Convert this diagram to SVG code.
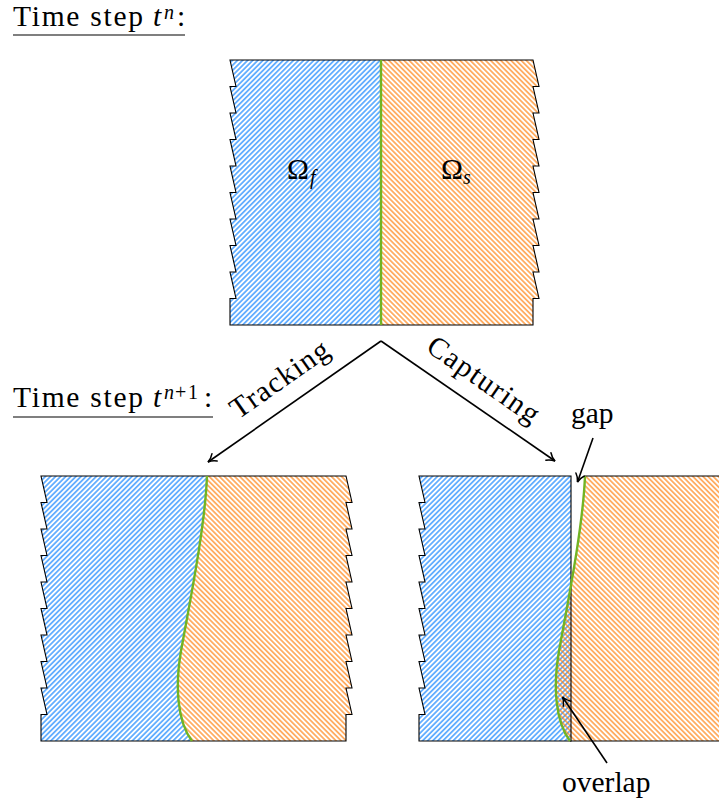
<svg xmlns="http://www.w3.org/2000/svg" width="719" height="803" viewBox="0 0 719 803">
<style>
.t{font-size:29.5px;fill:#000}
.it{font-style:italic}
.sup{font-size:20px}
.outline{fill:none;stroke:#000;stroke-width:1.1;stroke-linejoin:miter}
.iface{fill:none;stroke:#72b424;stroke-width:2.4}
.arrow{fill:none;stroke:#000;stroke-width:1.6;marker-end:url(#arr)}
.ul{stroke:#000;stroke-width:1.1}
</style>
<defs>
<pattern id="hb" width="3.6" height="3.6" patternUnits="userSpaceOnUse" patternTransform="rotate(45)"><line x1="1.8" y1="-1" x2="1.8" y2="4.6" stroke="#0a80ff" stroke-width="1.15"/></pattern>
<pattern id="ho" width="3.6" height="3.6" patternUnits="userSpaceOnUse" patternTransform="rotate(-45)"><line x1="1.8" y1="-1" x2="1.8" y2="4.6" stroke="#ff7f0a" stroke-width="1.15"/></pattern>
<marker id="arr" viewBox="-10 -6 12 12" refX="0" refY="0" markerWidth="12" markerHeight="12" orient="auto" markerUnits="userSpaceOnUse"><path d="M-8,-4.5 C-5.5,-2 -2,-0.5 0,0 C-2,0.5 -5.5,2 -8,4.5" fill="none" stroke="#000" stroke-width="1.5" stroke-linecap="round"/></marker>
</defs>

<g font-family="'Liberation Serif', 'Times New Roman', serif">
<g id="label-tn">
<text class="t" x="13" y="26" textLength="130" lengthAdjust="spacing">Time step</text>
<text class="t it" x="153" y="26">t</text>
<text class="t it sup" x="164" y="18.5">n</text>
<text class="t" x="177" y="26">:</text>
<line class="ul" x1="13" y1="35" x2="185" y2="35"/>
</g>

<g id="label-tn1">
<text class="t" x="13" y="407" textLength="130" lengthAdjust="spacing">Time step</text>
<text class="t it" x="153" y="407">t</text>
<text class="t it sup" x="164" y="399">n</text>
<text class="t sup" x="175" y="399">+</text>
<text class="t sup" x="188" y="399">1</text>
<text class="t" x="204" y="407">:</text>
<line class="ul" x1="13" y1="417" x2="213" y2="417"/>
</g>

<g id="domain-tn">
<path id="omega-f-region" fill="url(#hb)" d="M381,60 H230 l6,26.5h-6l6,26.5h-6l6,26.5h-6l6,26.5h-6l6,26.5h-6l6,26.5h-6l6,26.5h-6l6,26.5h-6l6,26.5h-6 v26.5 H381 Z"/>
<path id="omega-s-region" fill="url(#ho)" d="M381,60 H533 l6,26.5h-6l6,26.5h-6l6,26.5h-6l6,26.5h-6l6,26.5h-6l6,26.5h-6l6,26.5h-6l6,26.5h-6l6,26.5h-6 v26.5 H381 Z"/>
<path class="outline" d="M230,60 H533 l6,26.5h-6l6,26.5h-6l6,26.5h-6l6,26.5h-6l6,26.5h-6l6,26.5h-6l6,26.5h-6l6,26.5h-6l6,26.5h-6 v26.5 H230 v-26.5 h6l-6,-26.5h6l-6,-26.5h6l-6,-26.5h6l-6,-26.5h6l-6,-26.5h6l-6,-26.5h6l-6,-26.5h6l-6,-26.5h6l-6,-26.5 Z"/>
<path class="iface" d="M381,60 V325"/>
<g id="omega-f"><text class="t" font-size="28" x="287" y="179">Ω</text><text class="t it sup" x="310" y="184">f</text></g>
<g id="omega-s"><text class="t" font-size="28" x="441" y="179">Ω</text><text class="t it sup" x="463" y="184">s</text></g>
</g>

<g id="domain-tracking">
<path fill="url(#hb)" d="M207,476 H41 l6,26.5h-6l6,26.5h-6l6,26.5h-6l6,26.5h-6l6,26.5h-6l6,26.5h-6l6,26.5h-6l6,26.5h-6l6,26.5h-6 v26.5 H192 C177,721 175,686 181,651 C191,596 205,526 207,476 Z"/>
<path fill="url(#ho)" d="M207,476 H346 l6,26.5h-6l6,26.5h-6l6,26.5h-6l6,26.5h-6l6,26.5h-6l6,26.5h-6l6,26.5h-6l6,26.5h-6l6,26.5h-6 v26.5 H192 C177,721 175,686 181,651 C191,596 205,526 207,476 Z"/>
<path class="outline" d="M41,476 H346 l6,26.5h-6l6,26.5h-6l6,26.5h-6l6,26.5h-6l6,26.5h-6l6,26.5h-6l6,26.5h-6l6,26.5h-6l6,26.5h-6 v26.5 H41 v-26.5 h6l-6,-26.5h6l-6,-26.5h6l-6,-26.5h6l-6,-26.5h6l-6,-26.5h6l-6,-26.5h6l-6,-26.5h6l-6,-26.5h6l-6,-26.5 Z"/>
<path class="iface" d="M207,476 C205,526 191,596 181,651 C175,686 177,721 192,741"/>
</g>

<g id="domain-capturing">
<path fill="url(#hb)" d="M571,476 H419 l6,26.5h-6l6,26.5h-6l6,26.5h-6l6,26.5h-6l6,26.5h-6l6,26.5h-6l6,26.5h-6l6,26.5h-6l6,26.5h-6 v26.5 H571 Z"/>
<path fill="url(#ho)" d="M585,476 H724 l6,26.5h-6l6,26.5h-6l6,26.5h-6l6,26.5h-6l6,26.5h-6l6,26.5h-6l6,26.5h-6l6,26.5h-6l6,26.5h-6 v26.5 H570 C555,721 553,686 559,651 C569,596 583,526 585,476 Z"/>
<path class="outline" d="M571,476 H419 l6,26.5h-6l6,26.5h-6l6,26.5h-6l6,26.5h-6l6,26.5h-6l6,26.5h-6l6,26.5h-6l6,26.5h-6l6,26.5h-6 v26.5 H571 Z"/>
<path class="outline" d="M585,476 H724 l6,26.5h-6l6,26.5h-6l6,26.5h-6l6,26.5h-6l6,26.5h-6l6,26.5h-6l6,26.5h-6l6,26.5h-6l6,26.5h-6 v26.5 H570"/>
<path class="iface" d="M585,476 C583,526 569,596 559,651 C553,686 555,721 570,741"/>
</g>

<g id="connectors">
<path class="arrow" d="M381,341 L208,462"/>
<path class="arrow" d="M381,341 L555,461"/>
<path class="arrow" d="M593,438 L577.5,482"/>
<path class="arrow" d="M607,763 L562.5,697"/>
</g>

<g id="connector-labels">
<text class="t" transform="translate(285,387) rotate(-35)" text-anchor="middle" textLength="114" lengthAdjust="spacing">Tracking</text>
<text class="t" transform="translate(478,387.5) rotate(35)" text-anchor="middle" textLength="130" lengthAdjust="spacing">Capturing</text>
<text class="t" x="571" y="423">gap</text>
<text class="t" x="562" y="792">overlap</text>
</g>
</g>
</svg>
